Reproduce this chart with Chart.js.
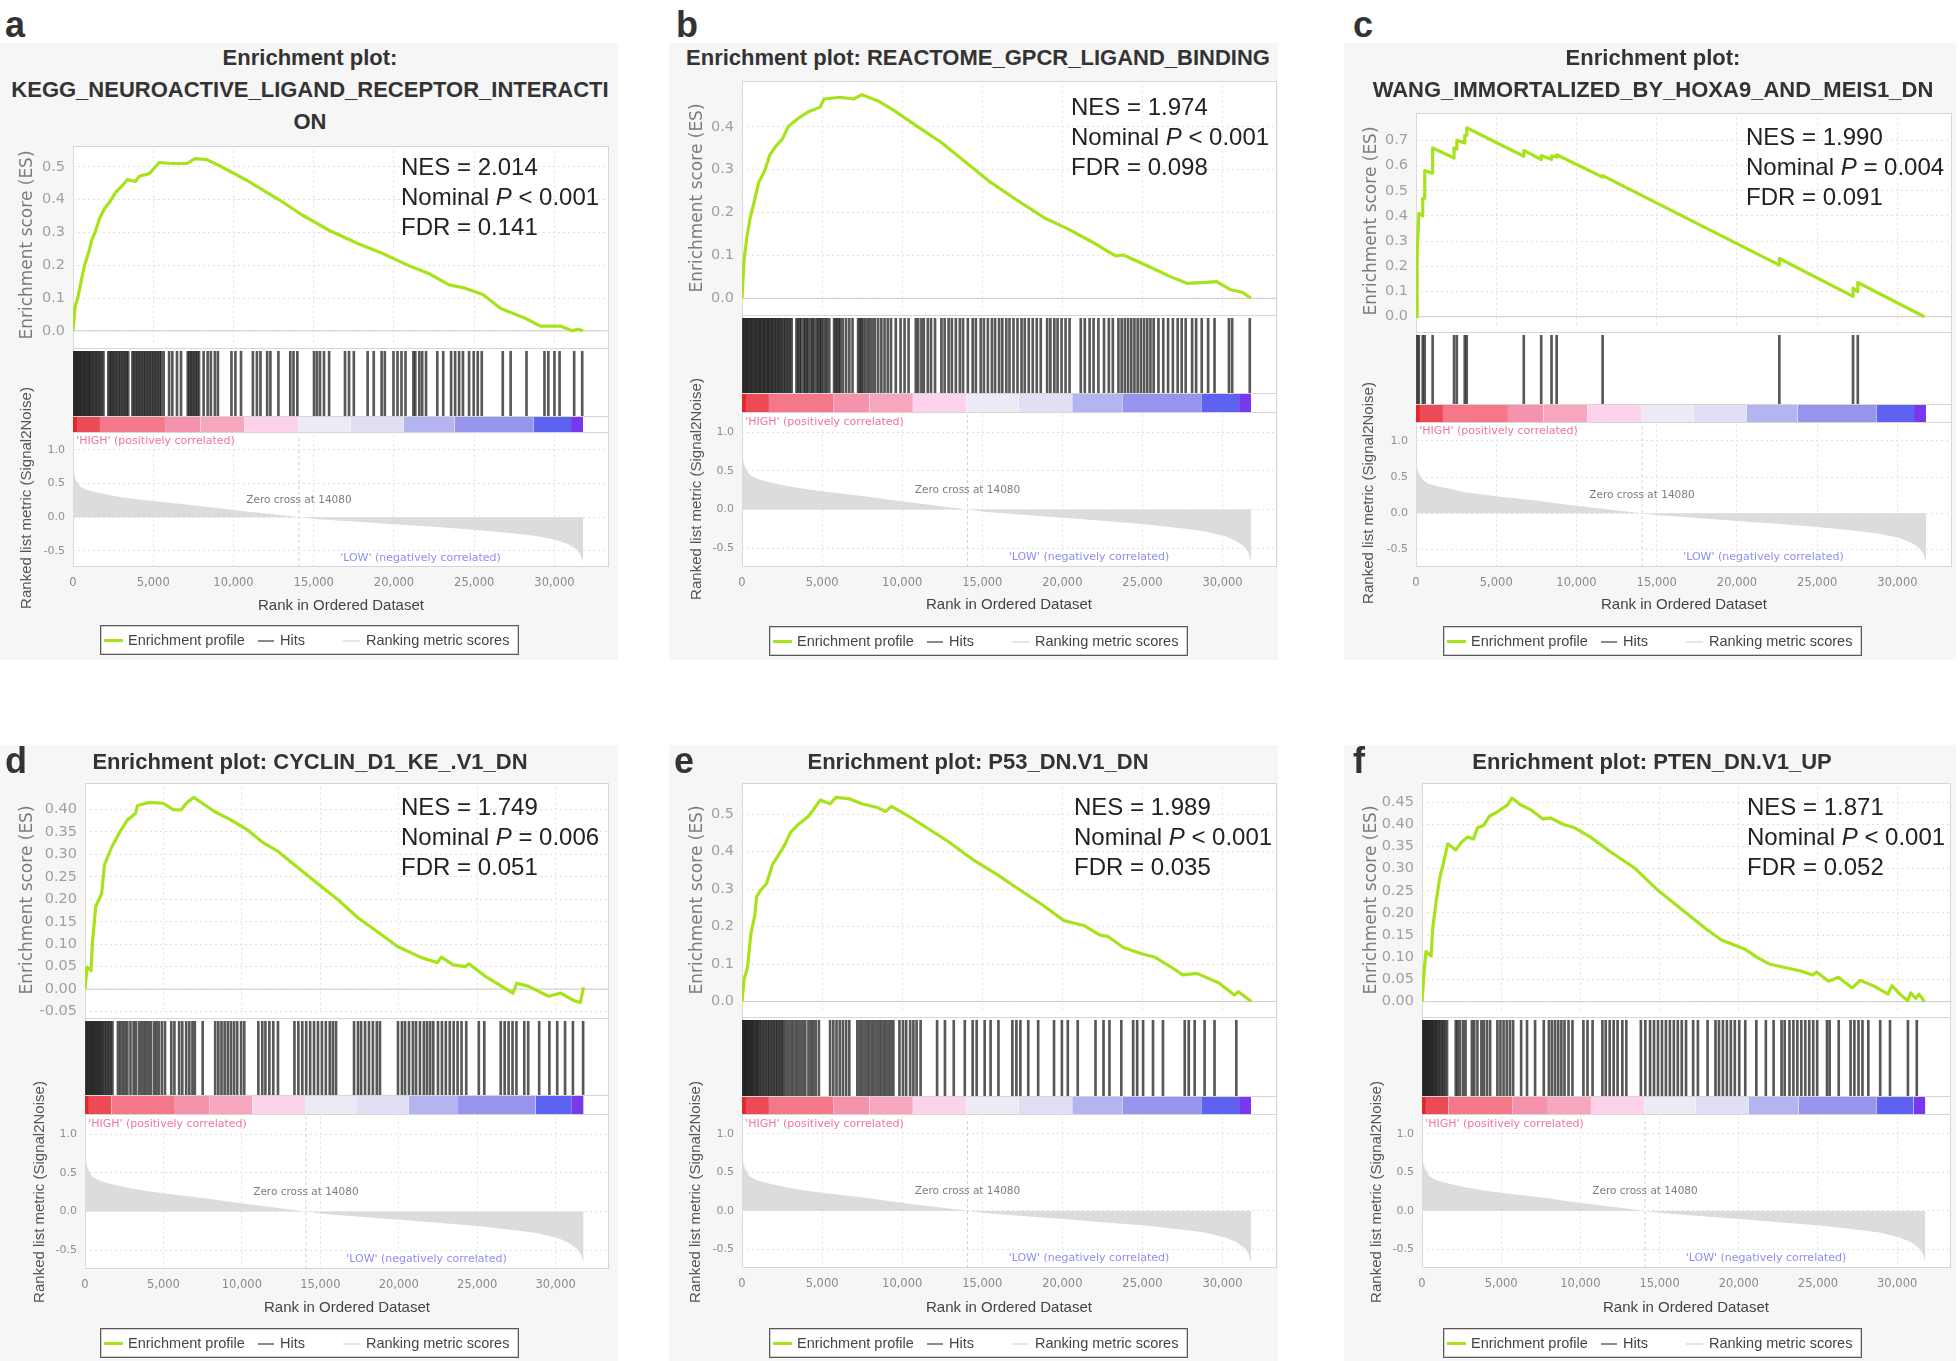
<!DOCTYPE html>
<html>
<head>
<meta charset="utf-8">
<title>GSEA enrichment plots</title>
<script src="https://cdn.jsdelivr.net/npm/chart.js"></script>
<style>
  html, body { margin: 0; padding: 0; background: #fff; }
  #fig { position: relative; width: 1960px; height: 1361px; overflow: hidden; font-family: "Liberation Sans", Arial, sans-serif; }
  #fig canvas { position: absolute; }
</style>
</head>
<body>
<div id="fig"></div>
<script>
// ---- shared ranked list (same data set in every panel) ----
const RANK_MAX = 33400;
const rankTicks = [0, 5000, 10000, 15000, 20000, 25000, 30000];
const zeroCross = 14080;

// ranked list metric (Signal2Noise): [rank, value]
const metric = [[0,0.70],[50,0.66],[173,0.56],[420,0.46],[790,0.41],[1410,0.37],[2150,0.335],[2900,0.30],[4130,0.26],
  [5370,0.227],[6610,0.197],[7850,0.167],[9330,0.123],[10820,0.084],[12800,0.034],[14080,0],[15270,-0.03],
  [17750,-0.069],[20220,-0.108],[22700,-0.148],[25170,-0.19],[27650,-0.246],[28880,-0.28],[30120,-0.34],
  [30860,-0.404],[31360,-0.478],[31600,-0.55],[31720,-0.62],[31780,-0.675]];
const metricTicks = [1.0, 0.5, 0.0, -0.5];
const metricMin = -0.74, metricMax = 1.225;

// heat band (rank boundaries and colours)
const bandEdges = [0, 247, 1679, 5728, 7950, 10666, 14024, 17283, 20616, 23776, 28714, 31035, 31780];
const bandColors = ['#e3262a', '#ec4a56', '#f47888', '#f592ae', '#f6a6bd', '#fcd3ea', '#ecebf5', '#e2def3',
  '#b4b4f0', '#9694ec', '#5d62f0', '#7838ee'];

const metricNotes = [
  { text: "'HIGH' (positively correlated)", rank: 200, value: 1.13, color: '#f2739c', align: 'left', size: 11 },
  { text: 'Zero cross at 14080', rank: 14080, value: 0.25, color: '#7d7d7d', align: 'center', size: 10.5 },
  { text: "'LOW' (negatively correlated)", rank: 16650, value: -0.61, color: '#8e8ef0', align: 'left', size: 11 }
];

// ---- a: KEGG neuroactive ligand receptor interaction ----
const esA = [[0,0],[124,0.073],[297,0.10],[545,0.16],[718,0.20],[965,0.237],[1163,0.276],[1411,0.305],[1658,0.343],
  [1955,0.372],[2277,0.392],[2648,0.421],[3020,0.44],[3391,0.461],[3886,0.455],[4133,0.471],[4752,0.479],[5371,0.513],
  [6113,0.51],[7103,0.51],[7598,0.525],[8341,0.522],[9331,0.498],[10816,0.459],[12796,0.401],[14281,0.353],
  [16013,0.305],[17746,0.266],[19231,0.237],[20963,0.198],[22201,0.174],[23438,0.14],[24428,0.13],[25542,0.111],
  [26656,0.068],[28141,0.039],[29131,0.0145],[30368,0.0145],[31111,0],[31482,0.005],[31779,0]];
const hitsA = [40,100,170,240,310,380,450,520,600,680,760,840,920,1000,1080,1160,1250,1340,1430,1520,1610,1700,1800,1900,
  2200,2290,2380,2470,2560,2650,2750,2850,2950,3050,3150,3250,3350,3440,3700,3800,3900,4000,4100,4200,4300,4400,4500,
  4600,4700,4800,4900,5000,5100,5200,5300,5400,5500,5650,5990,6190,6480,6730,7150,7250,7350,7450,7550,7650,7750,7850,
  8140,8390,8590,8840,9030,9875,10120,10470,11210,11460,11680,12100,12300,12800,13540,13740,13980,15020,15200,15390,
  15640,15960,16950,17200,17500,18360,18740,19230,19430,19970,20220,20470,20720,21210,21330,21580,21760,22000,22700,
  23070,23560,23810,24060,24300,24680,24970,25220,25470,26780,27270,28260,29380,29620,30000,30320,31230,31730];
const esTicksA = [0, 0.1, 0.2, 0.3, 0.4, 0.5];
const statsA = ['NES = 2.014', 'Nominal P < 0.001', 'FDR = 0.141'];

// ---- b: Reactome GPCR ligand binding ----
const esB = [[0,0],[124,0.087],[297,0.14],[495,0.185],[792,0.23],[1040,0.27],[1411,0.297],[1733,0.334],[2079,0.353],
  [2524,0.372],[2896,0.401],[3514,0.42],[4133,0.435],[4876,0.446],[5123,0.465],[6113,0.469],[6980,0.465],[7475,0.475],
  [8465,0.461],[9455,0.439],[10940,0.401],[12425,0.364],[13910,0.319],[15395,0.274],[17127,0.23],[18860,0.188],
  [20345,0.162],[21830,0.132],[23315,0.099],[23810,0.101],[25295,0.076],[26780,0.05],[27770,0.035],[29008,0.037],
  [29627,0.039],[30493,0.02],[31236,0.014],[31780,0]];
const hitsB = [40,110,180,260,330,400,480,560,640,720,800,880,960,1040,1120,1200,1290,1370,1450,1540,1620,1700,1790,
  1870,1960,2050,2140,2230,2320,2410,2500,2600,2700,2800,2900,3000,3100,3400,3500,3600,3700,3850,3950,4050,4150,4300,
  4400,4500,4650,4750,4850,4950,5050,5200,5300,5450,5750,5850,5950,6050,6150,6300,6500,6700,6900,7250,7350,7450,7550,
  7700,7850,8000,8150,8300,8500,8700,8900,9100,9300,9600,9900,10150,10400,10850,11000,11200,11350,11600,11800,12050,
  12450,12650,12900,13100,13350,13600,13800,14100,14400,14600,14900,15100,15350,15600,15800,16050,16250,16500,16700,
  16950,17200,17450,17650,17900,18150,18400,18650,19050,19250,19500,19700,19950,20200,20450,21150,21400,21700,21950,
  22250,22600,22900,23150,23500,23700,23900,24100,24300,24500,24700,24900,25100,25300,25500,25700,26000,26300,26600,
  26900,27200,27450,27700,28100,28350,28700,29100,29500,30400,30600,31700];
const esTicksB = [0, 0.1, 0.2, 0.3, 0.4];
const statsB = ['NES = 1.974', 'Nominal P < 0.001', 'FDR = 0.098'];

// ---- c: Wang immortalized by HOXA9 and MEIS1 DN ----
const esC = [[0,0],[74,0],[74,0.25],[173,0.41],[420,0.40],[420,0.47],[543,0.47],[543,0.58],[988,0.57],[1037,0.57],
  [1037,0.67],[2370,0.63],[2370,0.67],[2543,0.665],[2543,0.70],[3037,0.69],[3037,0.72],[3160,0.72],[3160,0.75],
  [6716,0.637],[6716,0.66],[7802,0.624],[7802,0.64],[8444,0.624],[8444,0.639],[8765,0.634],[8765,0.643],
  [11629,0.554],[11629,0.56],[22641,0.205],[22641,0.231],[27234,0.081],[27234,0.114],[27406,0.104],[27530,0.10],
  [27530,0.136],[31677,0]];
const hitsC = [74,173,420,543,1037,2370,2543,3037,3160,6716,7802,8444,8765,11629,22641,27234,27530];
const esTicksC = [0, 0.1, 0.2, 0.3, 0.4, 0.5, 0.6, 0.7];
const statsC = ['NES = 1.990', 'Nominal P = 0.004', 'FDR = 0.091'];

// ---- d: CYCLIN_D1_KE_.V1_DN ----
const esD = [[0,0],[50,0],[127,0.049],[380,0.041],[481,0.106],[684,0.184],[1063,0.213],[1241,0.277],[1696,0.316],
  [2203,0.349],[2709,0.377],[3216,0.391],[3342,0.409],[4102,0.416],[4988,0.414],[5621,0.40],[6127,0.399],[6507,0.416],
  [6938,0.427],[7520,0.413],[8280,0.395],[9292,0.377],[10305,0.356],[11318,0.327],[12331,0.306],[13597,0.27],
  [14863,0.234],[16129,0.199],[17395,0.159],[18661,0.127],[19927,0.095],[21446,0.07],[22459,0.059],[22712,0.071],
  [23472,0.054],[24231,0.05],[24485,0.056],[25498,0.029],[26510,0.007],[27270,-0.009],[27523,0.013],[28283,0.006],
  [29549,-0.016],[30308,-0.009],[31194,-0.026],[31574,-0.03],[31777,0.004]];
const hitsD = [50,120,200,280,350,430,500,580,660,740,820,900,980,1060,1150,1250,1350,1450,1550,1650,1750,2100,2250,
  2400,2550,2700,2900,3100,3250,3450,3600,3750,3900,4050,4200,4400,4550,4700,4900,5100,5500,5700,6000,6200,6450,6650,
  6850,7000,7500,8300,8500,8700,8900,9100,9300,9500,9700,9950,10150,11050,11300,11500,11750,12000,12300,13350,13600,
  13850,14100,14350,14600,14850,15100,15350,15600,15800,16000,17150,17400,17600,17850,18100,18350,18600,18800,19950,
  20200,20400,20650,20900,21100,21350,21600,21800,22000,22200,22500,22750,23000,23250,23500,23750,24000,24300,25100,
  25450,26500,26750,27000,27250,27500,28000,28250,28950,29600,30100,30600,31100,31750];
const esTicksD = [-0.05, 0, 0.05, 0.10, 0.15, 0.20, 0.25, 0.30, 0.35, 0.40];
const statsD = ['NES = 1.749', 'Nominal P = 0.006', 'FDR = 0.051'];

// ---- e: P53_DN.V1_DN ----
const esE = [[0,0],[50,0],[124,0.058],[347,0.092],[545,0.178],[792,0.229],[916,0.28],[1163,0.297],[1535,0.315],
  [1906,0.366],[2277,0.391],[2648,0.417],[3020,0.451],[3514,0.473],[4133,0.494],[4505,0.515],[4876,0.538],[5495,0.528],
  [5866,0.545],[6732,0.541],[7475,0.528],[8465,0.518],[8960,0.507],[9331,0.521],[10445,0.494],[11682,0.46],
  [12920,0.426],[14405,0.379],[15890,0.34],[17375,0.297],[18860,0.255],[20097,0.216],[21335,0.203],[22325,0.178],
  [22820,0.174],[23810,0.144],[25047,0.126],[25790,0.118],[26780,0.092],[27522,0.071],[28388,0.075],[29750,0.05],
  [30740,0.017],[30988,0.026],[31804,0]];
const hitsE = [40,100,160,220,280,350,420,490,560,630,700,780,860,940,1020,1100,1200,1300,1400,1500,1600,1700,1800,
  1900,2000,2100,2200,2300,2400,2500,2600,2750,2900,3050,3200,3350,3500,3650,3800,3950,4150,4300,4450,4600,4800,5500,
  5700,5900,6100,6300,6500,6700,7200,7350,7500,7650,7800,7950,8100,8250,8400,8550,8700,8850,9000,9150,9300,9450,9830,
  10050,10250,10500,10700,10900,11150,12180,12670,13220,13910,14400,14650,15150,15520,16010,16880,17130,17380,17870,
  18490,19480,19970,20340,20960,22070,22570,22940,23680,24420,24670,25040,25660,26280,27640,27890,28260,28880,29500,
  30860];
const esTicksE = [0, 0.1, 0.2, 0.3, 0.4, 0.5];
const statsE = ['NES = 1.989', 'Nominal P < 0.001', 'FDR = 0.035'];

// ---- f: PTEN_DN.V1_UP ----
const esF = [[0,0],[50,0],[125,0.064],[250,0.113],[576,0.103],[676,0.165],[876,0.222],[1127,0.28],[1377,0.316],
  [1628,0.356],[2128,0.342],[2504,0.36],[2880,0.371],[3255,0.367],[3505,0.392],[3881,0.397],[4257,0.418],[4757,0.428],
  [5383,0.443],[5684,0.459],[6260,0.443],[6886,0.432],[7637,0.412],[8138,0.414],[8889,0.40],[9640,0.392],[10642,0.371],
  [11894,0.338],[13396,0.302],[14898,0.251],[16401,0.208],[17903,0.165],[18905,0.139],[20407,0.118],[21158,0.10],
  [21910,0.085],[22911,0.077],[23913,0.069],[24664,0.06],[24915,0.067],[25666,0.046],[26292,0.055],[27168,0.031],
  [27669,0.048],[28546,0.035],[29422,0.017],[29672,0.036],[30173,0.017],[30674,0.002],[30850,0.02],[31175,0.007],
  [31375,0.017],[31726,0]];
const hitsF = [50,110,170,240,300,370,440,510,580,650,720,800,880,960,1050,1150,1250,1350,1450,1580,2130,2250,2400,
  2600,2750,3150,3300,3500,3750,3900,4100,4300,4760,4950,5150,5350,5550,5750,6260,6630,7140,7690,8010,8200,8400,8600,
  8800,9000,9250,9500,10190,10450,10770,11390,11600,11850,12100,12350,12650,12900,13820,14100,14400,14650,14900,15150,
  15400,15650,15900,16150,16400,16670,17120,17420,18030,18530,18750,19000,19250,19500,19750,20030,20410,21110,21710,
  22200,22700,22900,23200,23450,23700,23950,24200,24450,24700,24950,25570,25740,26310,27060,27300,27560,27810,28180,
  28930,29550,30680,31240];
const esTicksF = [0, 0.05, 0.10, 0.15, 0.20, 0.25, 0.30, 0.35, 0.40, 0.45];
const statsF = ['NES = 1.871', 'Nominal P < 0.001', 'FDR = 0.052'];

// ---- page layout (pixels) ----
const panels = [
  { letter: 'a', box: [0, 43, 618, 617], letterTop: 6.5, letterLeft: 5,
    title: ['Enrichment plot:', 'KEGG_NEUROACTIVE_LIGAND_RECEPTOR_INTERACTI', 'ON'], titleX: 310, titleY: 58,
    plot: { l: 73, r: 609, esTop: 146, esBot: 348, bandTop: 416, bandBot: 432, metBot: 567 },
    es: esA, hits: hitsA, esMin: -0.038, esMax: 0.549, esTicks: esTicksA, esDec: 1,
    stats: statsA, statsPos: [401, 167], esTitle: [26, 245], metTitle: [26, 498], xTitle: [341, 605], legend: [100, 625] },
  { letter: 'b', box: [669, 43, 609, 617], letterTop: 6.5, letterLeft: 676,
    title: ['Enrichment plot: REACTOME_GPCR_LIGAND_BINDING'], titleX: 978, titleY: 58,
    plot: { l: 742, r: 1277, esTop: 81, esBot: 315, bandTop: 393, bandBot: 412, metBot: 567 },
    es: esB, hits: hitsB, esMin: -0.028, esMax: 0.496, esTicks: esTicksB, esDec: 1,
    stats: statsB, statsPos: [1071, 107], esTitle: [696, 198], metTitle: [696, 489], xTitle: [1009, 604], legend: [769, 626] },
  { letter: 'c', box: [1344, 43, 612, 617], letterTop: 6.5, letterLeft: 1353,
    title: ['Enrichment plot:', 'WANG_IMMORTALIZED_BY_HOXA9_AND_MEIS1_DN'], titleX: 1653, titleY: 58,
    plot: { l: 1416, r: 1952, esTop: 113, esBot: 332, bandTop: 404, bandBot: 422, metBot: 567 },
    es: esC, hits: hitsC, esMin: -0.042, esMax: 0.79, esTicks: esTicksC, esDec: 1,
    stats: statsC, statsPos: [1746, 137], esTitle: [1370, 221], metTitle: [1368, 493], xTitle: [1684, 604], legend: [1443, 626] },
  { letter: 'd', box: [0, 745, 618, 616], letterTop: 742.5, letterLeft: 5,
    title: ['Enrichment plot: CYCLIN_D1_KE_.V1_DN'], titleX: 310, titleY: 762,
    plot: { l: 85, r: 609, esTop: 783, esBot: 1018, bandTop: 1095, bandBot: 1114, metBot: 1269 },
    es: esD, hits: hitsD, esMin: -0.054, esMax: 0.4487, esTicks: esTicksD, esDec: 2,
    stats: statsD, statsPos: [401, 807], esTitle: [26, 900], metTitle: [39, 1192], xTitle: [347, 1307], legend: [100, 1328] },
  { letter: 'e', box: [669, 745, 609, 616], letterTop: 742.5, letterLeft: 674,
    title: ['Enrichment plot: P53_DN.V1_DN'], titleX: 978, titleY: 762,
    plot: { l: 742, r: 1277, esTop: 783, esBot: 1017, bandTop: 1096, bandBot: 1114, metBot: 1268 },
    es: esE, hits: hitsE, esMin: -0.029, esMax: 0.571, esTicks: esTicksE, esDec: 1,
    stats: statsE, statsPos: [1074, 807], esTitle: [696, 900], metTitle: [695, 1192], xTitle: [1009, 1307], legend: [769, 1328] },
  { letter: 'f', box: [1344, 745, 612, 616], letterTop: 742.5, letterLeft: 1353,
    title: ['Enrichment plot: PTEN_DN.V1_UP'], titleX: 1652, titleY: 762,
    plot: { l: 1422, r: 1951, esTop: 783, esBot: 1017, bandTop: 1096, bandBot: 1114, metBot: 1268 },
    es: esF, hits: hitsF, esMin: -0.024, esMax: 0.4824, esTicks: esTicksF, esDec: 2,
    stats: statsF, statsPos: [1747, 807], esTitle: [1370, 900], metTitle: [1376, 1192], xTitle: [1686, 1307], legend: [1443, 1328] }
];

const fig = document.getElementById('fig');
const P = 12, W = 60, XAX = 30;
const GRID = '#e1e1e1', FRAME = '#d6d6d6', LIME = '#a6e31a';

const common = {
  responsive: false, animation: false, events: [],
  plugins: { legend: { display: false }, tooltip: { enabled: false } }
};

function el(css, text, parent) {
  const e = document.createElement('div');
  e.style.cssText = 'position:absolute;' + css;
  if (text !== undefined) e.textContent = text;
  (parent || fig).appendChild(e);
  return e;
}

function canvasAt(l, t, w, h) {
  const c = document.createElement('canvas');
  c.width = w; c.height = h;
  c.style.cssText = `left:${l}px;top:${t}px;width:${w}px;height:${h}px`;
  fig.appendChild(c);
  return c;
}

function xAxis(show) {
  return {
    type: 'linear', min: 0, max: RANK_MAX, offset: false,
    afterBuildTicks: s => { s.ticks = rankTicks.map(v => ({ value: v })); },
    afterFit: s => { s.height = show ? XAX : 0; },
    grid: { color: GRID, drawTicks: false },
    border: { display: false, dash: [2, 3] },
    ticks: { display: show, autoSkip: false, maxRotation: 0, padding: 9, color: '#8a8a8a',
      font: { family: 'DejaVu Sans', size: 11.5 }, callback: v => v.toLocaleString('en-US') }
  };
}

function yAxis(min, max, ticks, dec, size, color) {
  return {
    type: 'linear', min, max,
    afterBuildTicks: s => { s.ticks = ticks.map(v => ({ value: v })); },
    afterFit: s => { s.width = W; },
    grid: { color: GRID, drawTicks: false },
    border: { display: false, dash: [2, 3] },
    ticks: { autoSkip: false, padding: 8, color, font: { family: 'DejaVu Sans', size }, callback: v => v.toFixed(dec) }
  };
}

const notesPlugin = {
  id: 'notes',
  afterDatasetsDraw(chart) {
    const { ctx, scales: { x, y } } = chart;
    ctx.save();
    metricNotes.forEach(n => {
      ctx.font = `${n.size}px "DejaVu Sans"`;
      ctx.fillStyle = n.color;
      ctx.textAlign = n.align;
      ctx.textBaseline = 'middle';
      ctx.fillText(n.text, x.getPixelForValue(n.rank), y.getPixelForValue(n.value));
    });
    ctx.restore();
  }
};

function legend(x, y) {
  const box = el(`left:${x}px;top:${y}px;width:419px;height:30px;background:#fff;border:1px solid #5a5a5a;box-sizing:border-box;box-shadow:inset 0 0 0 1px #cfcfcf;`);
  const txt = 'top:0;height:28px;line-height:28px;font-size:14.5px;color:#444;white-space:nowrap;';
  el(`left:3px;top:13px;width:19px;height:3px;background:${LIME};`, undefined, box);
  el(`left:27px;${txt}`, 'Enrichment profile', box);
  el(`left:157px;top:14px;width:16px;height:2px;background:#8a8a8a;`, undefined, box);
  el(`left:179px;${txt}`, 'Hits', box);
  el(`left:242px;top:14px;width:17px;height:2px;background:#e6e6e6;`, undefined, box);
  el(`left:265px;${txt}`, 'Ranking metric scores', box);
}

function buildPanel(p) {
  const [bx, by, bw, bh] = p.box;
  el(`left:${bx}px;top:${by}px;width:${bw}px;height:${bh}px;background:#f5f6f5;`);
  el(`left:${p.letterLeft}px;top:${p.letterTop}px;font-size:36px;line-height:36px;font-weight:bold;color:#333;`, p.letter);

  p.title.forEach((t, i) => {
    el(`left:${p.titleX - 400}px;top:${p.titleY - 13 + i * 32}px;width:800px;height:26px;line-height:26px;text-align:center;font-size:22px;font-weight:bold;color:#333;white-space:nowrap;`, t);
  });

  const g = p.plot, pw = g.r - g.l;
  // white plot frame and separators
  el(`left:${g.l}px;top:${g.esTop}px;width:${pw}px;height:${g.metBot - g.esTop}px;background:#fff;border:1px solid ${FRAME};box-sizing:border-box;`);
  [g.esBot, g.bandTop, g.bandBot].forEach(yy => el(`left:${g.l}px;top:${yy}px;width:${pw}px;height:1px;background:${FRAME};`));

  // enrichment score curve
  new Chart(canvasAt(g.l - W, g.esTop - P, pw + W + P, g.esBot - g.esTop + 2 * P), {
    type: 'line',
    data: { datasets: [
      { data: p.es.map(([x, y]) => ({ x, y })), borderColor: LIME, borderWidth: 3.2, borderJoinStyle: 'round', pointRadius: 0, tension: 0, order: 0 },
      { data: [{ x: 0, y: 0 }, { x: RANK_MAX, y: 0 }], borderColor: '#cbcbcb', borderWidth: 1, pointRadius: 0, order: 1 }
    ] },
    options: { ...common, layout: { padding: { top: P, bottom: P, left: 0, right: P } },
      scales: { x: xAxis(false), y: yAxis(p.esMin, p.esMax, p.esTicks, p.esDec, 14.5, '#a0a0a0') } }
  });

  // hits
  const hitsTop = g.esBot + 3;
  new Chart(canvasAt(g.l, hitsTop, pw, g.bandTop - hitsTop), {
    type: 'bar',
    data: { datasets: [{ data: p.hits.map(r => ({ x: r, y: 1 })), backgroundColor: 'rgba(30,30,30,0.74)', barThickness: 2, borderWidth: 0 }] },
    options: { ...common, layout: { padding: 0 },
      scales: { x: { type: 'linear', min: 0, max: RANK_MAX, offset: false, display: false }, y: { min: 0, max: 1, display: false } } }
  });

  // colour band
  new Chart(canvasAt(g.l, g.bandTop + 1, pw, g.bandBot - g.bandTop - 1), {
    type: 'line',
    data: { datasets: bandColors.map((c, i) => ({
      data: [{ x: bandEdges[i], y: 1 }, { x: bandEdges[i + 1], y: 1 }],
      fill: 'start', backgroundColor: c, borderWidth: 0, pointRadius: 0 })) },
    options: { ...common, layout: { padding: 0 },
      scales: { x: { type: 'linear', min: 0, max: RANK_MAX, display: false }, y: { min: 0, max: 1, display: false } } }
  });

  // ranked list metric
  new Chart(canvasAt(g.l - W, g.bandBot - P, pw + W + P, g.metBot - g.bandBot + P + XAX), {
    type: 'line',
    data: { datasets: [
      { data: metric.map(([x, y]) => ({ x, y })), fill: 'origin', backgroundColor: '#dcdcdc', borderWidth: 0, pointRadius: 0, tension: 0 },
      { data: [{ x: zeroCross, y: metricMin }, { x: zeroCross, y: metricMax }], borderColor: '#cfcfcf', borderDash: [3, 3], borderWidth: 1, pointRadius: 0 }
    ] },
    options: { ...common, layout: { padding: { top: P, bottom: 0, left: 0, right: P } },
      scales: { x: xAxis(true), y: yAxis(metricMin, metricMax, metricTicks, 1, 11, '#8f8f8f') } },
    plugins: [notesPlugin]
  });

  // statistics
  const st = el(`left:${p.statsPos[0]}px;top:${p.statsPos[1] - 15}px;font-size:24px;line-height:30px;color:#222;white-space:nowrap;`);
  p.stats.forEach(s => {
    const line = document.createElement('div');
    const m = s.match(/^(Nominal )P(.*)$/);
    if (m) {
      line.append(m[1]);
      const it = document.createElement('i'); it.textContent = 'P'; line.append(it);
      line.append(m[2]);
    } else line.textContent = s;
    st.appendChild(line);
  });

  // axis titles
  el(`left:${p.esTitle[0] - 200}px;top:${p.esTitle[1] - 11}px;width:400px;height:22px;line-height:22px;text-align:center;transform:rotate(-90deg);font-family:'DejaVu Sans';font-size:17px;color:#7c7c7c;`, 'Enrichment score (ES)');
  el(`left:${p.metTitle[0] - 200}px;top:${p.metTitle[1] - 11}px;width:400px;height:22px;line-height:22px;text-align:center;transform:rotate(-90deg);font-size:15px;color:#555;`, 'Ranked list metric (Signal2Noise)');
  el(`left:${p.xTitle[0] - 200}px;top:${p.xTitle[1] - 11}px;width:400px;height:22px;line-height:22px;text-align:center;font-size:15px;color:#444;`, 'Rank in Ordered Dataset');

  legend(p.legend[0], p.legend[1]);
}

panels.forEach(buildPanel);
</script>
</body>
</html>
